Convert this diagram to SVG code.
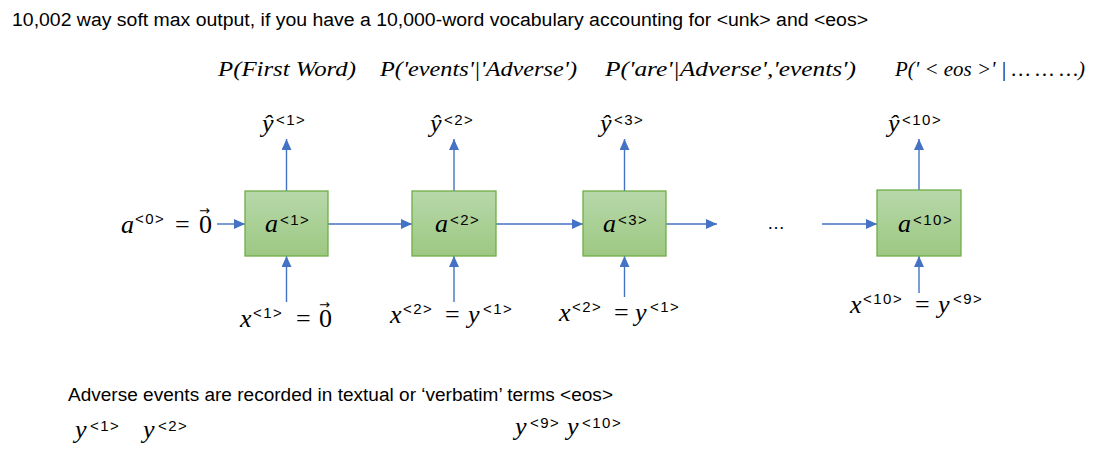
<svg xmlns="http://www.w3.org/2000/svg" width="1118" height="456" viewBox="0 0 1118 456">
  <style>
    .t { font-family: "Liberation Sans", Arial, sans-serif; font-size: 18px; fill: #000; }
    .p { font-family: "Liberation Serif", "DejaVu Serif", serif; font-style: italic; font-size: 22px; fill: #000; }
    .m { font-family: "Liberation Serif", "DejaVu Serif", serif; font-style: italic; font-size: 26px; fill: #000; }
    .mu { font-family: "Liberation Serif", "DejaVu Serif", serif; font-size: 26px; fill: #000; }
    .s { font-family: "Liberation Sans", Arial, sans-serif; font-size: 15px; fill: #000; letter-spacing: 1.5px; }
    .vec { font-family: "DejaVu Sans", sans-serif; font-size: 13px; }
    .box { fill: url(#g); stroke: #70ad47; stroke-width: 1.3; }
    .c { stroke: #4472c4; stroke-width: 1.4; fill: none; marker-end: url(#ah); }
  </style>
  <defs>
    <linearGradient id="g" x1="0" y1="0" x2="0" y2="1">
      <stop offset="0" stop-color="#b7d8aa"/>
      <stop offset="1" stop-color="#9dc882"/>
    </linearGradient>
    <marker id="ah" markerUnits="userSpaceOnUse" markerWidth="11" markerHeight="10" refX="11" refY="5" orient="auto">
      <path d="M0,0 L11,5 L0,10 z" fill="#4472c4"/>
    </marker>
  </defs>
  <rect width="1118" height="456" fill="#fff"/>

  <text class="t" x="12" y="26" textLength="856" lengthAdjust="spacingAndGlyphs">10,002 way soft max output, if you have a 10,000-word vocabulary accounting for &lt;unk&gt; and &lt;eos&gt;</text>

  <g id="probs">
    <text class="p" x="218" y="76" textLength="138" lengthAdjust="spacingAndGlyphs">P(First Word)</text>
    <text class="p" x="380" y="76" textLength="197" lengthAdjust="spacingAndGlyphs">P('events'|'Adverse')</text>
    <text class="p" x="605" y="76" textLength="251" lengthAdjust="spacingAndGlyphs">P('are'|Adverse','events')</text>
    <text class="p" x="895" y="76" textLength="190" lengthAdjust="spacingAndGlyphs">P(' &lt; eos &gt;' | … … …)</text>
  </g>

  <g id="connectors">
    <line class="c" x1="217" y1="224" x2="245" y2="224"/>
    <line class="c" x1="328" y1="224" x2="412" y2="224"/>
    <line class="c" x1="496" y1="224" x2="583" y2="224"/>
    <line class="c" x1="666" y1="224" x2="717" y2="224"/>
    <line class="c" x1="822" y1="224" x2="877" y2="224"/>
    <line class="c" x1="286.5" y1="191" x2="286.5" y2="139"/>
    <line class="c" x1="454" y1="191" x2="454" y2="139"/>
    <line class="c" x1="624.5" y1="191" x2="624.5" y2="139"/>
    <line class="c" x1="919" y1="190" x2="919" y2="139"/>
    <line class="c" x1="286.5" y1="302" x2="286.5" y2="256"/>
    <line class="c" x1="454" y1="302" x2="454" y2="256"/>
    <line class="c" x1="624.5" y1="297" x2="624.5" y2="256"/>
    <line class="c" x1="919" y1="293" x2="919" y2="256"/>
  </g>

  <g id="a0">
    <text class="m" x="121" y="233">a</text>
    <text class="s" x="135" y="224">&lt;0&gt;</text>
    <text class="mu" x="175" y="233">=</text>
    <text class="mu" x="199" y="233">0<tspan class="vec" x="199" y="215">→</tspan></text>
  </g>

  <g id="node1">
    <rect class="box" x="245" y="191" width="83" height="65"/>
    <text class="m" x="265" y="232">a</text>
    <text class="s" x="280" y="225">&lt;1&gt;</text>
  </g>
  <g id="node2">
    <rect class="box" x="412" y="191" width="84" height="65"/>
    <text class="m" x="435" y="232">a</text>
    <text class="s" x="450" y="225">&lt;2&gt;</text>
  </g>
  <g id="node3">
    <rect class="box" x="583" y="191" width="83" height="65"/>
    <text class="m" x="603" y="232">a</text>
    <text class="s" x="618" y="225">&lt;3&gt;</text>
  </g>
  <g id="node10">
    <rect class="box" x="877" y="190" width="84" height="66"/>
    <text class="m" x="898" y="232">a</text>
    <text class="s" x="913" y="225">&lt;10&gt;</text>
  </g>

  <text class="t" x="767" y="229">…</text>

  <g id="yhat">
    <text class="m" x="262" y="132">ŷ</text>
    <text class="s" x="276" y="125">&lt;1&gt;</text>
    <text class="m" x="430" y="132">ŷ</text>
    <text class="s" x="444" y="125">&lt;2&gt;</text>
    <text class="m" x="600" y="132">ŷ</text>
    <text class="s" x="614" y="125">&lt;3&gt;</text>
    <text class="m" x="888" y="132">ŷ</text>
    <text class="s" x="902" y="125">&lt;10&gt;</text>
  </g>

  <g id="inputs">
    <text class="m" x="240" y="327">x</text>
    <text class="s" x="253" y="318">&lt;1&gt;</text>
    <text class="mu" x="296" y="327">=</text>
    <text class="mu" x="319" y="327">0<tspan class="vec" x="319" y="309">→</tspan></text>

    <text class="m" x="390" y="323">x</text>
    <text class="s" x="403" y="314">&lt;2&gt;</text>
    <text class="mu" x="445" y="323">=</text>
    <text class="m" x="468" y="323">y</text>
    <text class="s" x="483" y="314">&lt;1&gt;</text>

    <text class="m" x="559" y="321">x</text>
    <text class="s" x="572" y="312">&lt;2&gt;</text>
    <text class="mu" x="614" y="321">=</text>
    <text class="m" x="635" y="321">y</text>
    <text class="s" x="650" y="312">&lt;1&gt;</text>

    <text class="m" x="850" y="313">x</text>
    <text class="s" x="863" y="304">&lt;10&gt;</text>
    <text class="mu" x="915" y="313">=</text>
    <text class="m" x="938" y="313">y</text>
    <text class="s" x="953" y="304">&lt;9&gt;</text>
  </g>

  <text class="t" x="68" y="401" textLength="545" lengthAdjust="spacingAndGlyphs">Adverse events are recorded in textual or ‘verbatim’ terms &lt;eos&gt;</text>

  <g id="ylabels">
    <text class="m" x="75" y="438">y</text>
    <text class="s" x="90" y="431">&lt;1&gt;</text>
    <text class="m" x="143" y="438">y</text>
    <text class="s" x="158" y="431">&lt;2&gt;</text>
    <text class="m" x="515" y="435">y</text>
    <text class="s" x="530" y="428">&lt;9&gt;</text>
    <text class="m" x="567" y="435">y</text>
    <text class="s" x="582" y="428">&lt;10&gt;</text>
  </g>
</svg>
